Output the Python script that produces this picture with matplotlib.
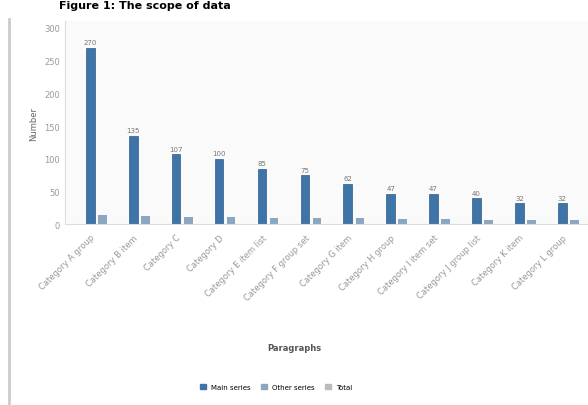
import matplotlib.pyplot as plt
import numpy as np

categories = ['Category A group', 'Category B item', 'Category C', 'Category D',
              'Category E item list', 'Category F group set', 'Category G item',
              'Category H group', 'Category I item set', 'Category J group list',
              'Category K item', 'Category L group']
main_values = [270, 135, 107, 100, 85, 75, 62, 47, 47, 40, 32, 32]
other_values = [14, 12, 11, 11, 10, 10, 9, 8, 8, 7, 6, 6]
y_ticks = [0, 50, 100, 150, 200, 250, 300]

fig = plt.figure(figsize=(5.88, 4.06), dpi=100)
fig.patch.set_facecolor('white')

# caption at the very top
fig.text(0.10, 0.998, 'Figure 1: The scope of data', fontsize=8, fontweight='bold',
         ha='left', va='top', color='black')

# grey frame line on the left
fig.add_artist(plt.Line2D([0.015, 0.015], [0, 0.95], color='#cccccc', lw=2))

ax = fig.add_axes([0.11, 0.445, 0.89, 0.50])
ax.set_facecolor('#fafafa')
x = np.arange(len(categories))
ax.bar(x, main_values, width=0.2, color='#3f74a8', edgecolor='#2e5b87', lw=0.5)
ax.bar(x + 0.28, other_values, width=0.2, color='#8aa6c1')
for xi, v in zip(x, main_values):
    ax.text(xi, v + 4, str(v), ha='center', va='bottom', fontsize=5, color='#777777')

ax.set_xlim(-0.6, 11.6)
ax.set_ylim(0, 310)
ax.set_yticks(y_ticks)
ax.tick_params(axis='y', labelsize=6, colors='#999999', length=0)
ax.set_xticks(x)
ax.set_xticklabels(categories, rotation=45, ha='right', rotation_mode='anchor',
                   fontsize=6, color='#999999')
ax.tick_params(axis='x', length=0, pad=6)
for s in ['top', 'right']:
    ax.spines[s].set_visible(False)
ax.spines['left'].set_color('#dddddd')
ax.spines['bottom'].set_color('#dddddd')
ax.set_ylabel('Number', fontsize=6, color='#666666')

fig.text(0.50, 0.135, 'Paragraphs', fontsize=6, fontweight='bold', color='#555555', ha='center')

handles = [plt.Rectangle((0, 0), 1, 1, color=c) for c in ['#3f74a8', '#8aa6c1', '#bbbbbb']]
fig.legend(handles, ['Main series', 'Other series', 'Total'], loc='center',
           bbox_to_anchor=(0.47, 0.045), ncol=3, fontsize=5, frameon=False,
           handlelength=0.8, handleheight=0.8, columnspacing=1.5)

fig.savefig('out.png', dpi=100)
